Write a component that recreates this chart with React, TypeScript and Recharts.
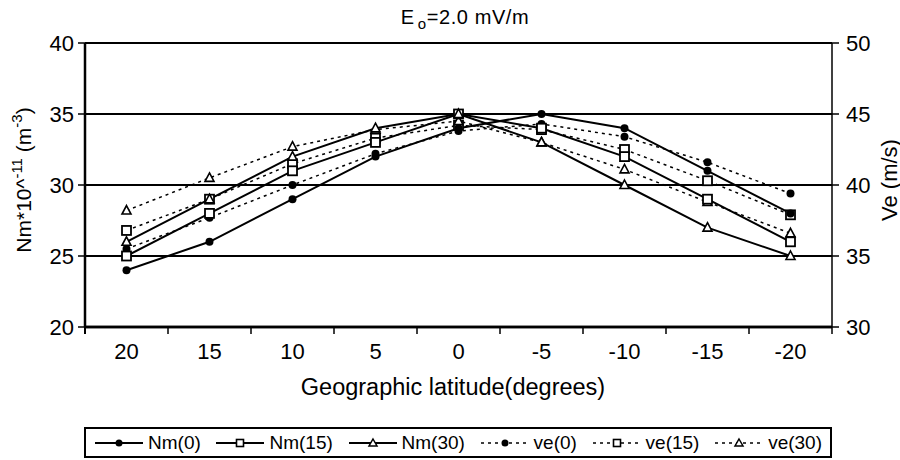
import React from "react";
import { ComposedChart, Line, XAxis, YAxis, CartesianGrid } from "recharts";

const latitudes = ["20", "15", "10", "5", "0", "-5", "-10", "-15", "-20"];
const nm0 = [24, 26, 29, 32, 34, 35, 34, 31, 28];
const nm15 = [25, 28, 31, 33, 35, 34, 32, 29, 26];
const nm30 = [26, 29, 32, 34, 35, 33, 30, 27, 25];
const ve0 = [35.5, 37.7, 40, 42.2, 43.8, 44.3, 43.4, 41.6, 39.4];
const ve15 = [36.8, 39, 41.5, 43.3, 44.2, 43.9, 42.5, 40.3, 37.9];
const ve30 = [38.2, 40.5, 42.7, 43.9, 44.5, 43, 41.1, 38.8, 36.6];
const leftTicks = [20, 25, 30, 35, 40];
const rightTicks = [30, 35, 40, 45, 50];

const data = latitudes.map((lat, i) => ({
  lat,
  nm0: nm0[i],
  nm15: nm15[i],
  nm30: nm30[i],
  ve0: ve0[i],
  ve15: ve15[i],
  ve30: ve30[i],
}));

const FONT = '"Liberation Sans", Arial, sans-serif';
const PLOT_LEFT = 85;
const PLOT_RIGHT = 832;
const PLOT_BOTTOM = 327;
const BAND = (PLOT_RIGHT - PLOT_LEFT) / latitudes.length;
const DOTTED = "3 4";

const CircleDot = (p: any) => <circle key={p.index} cx={p.cx} cy={p.cy} r={4} fill="#000" />;
const SquareDot = (p: any) => (
  <rect key={p.index} x={p.cx - 4.5} y={p.cy - 4.5} width={9} height={9} fill="#fff" stroke="#000" strokeWidth={1.8} />
);
const TriDot = (p: any) => (
  <polygon
    key={p.index}
    points={`${p.cx},${p.cy - 5} ${p.cx + 4.5},${p.cy + 3.5} ${p.cx - 4.5},${p.cy + 3.5}`}
    fill="#fff"
    stroke="#000"
    strokeWidth={1.6}
  />
);

// label in the middle of each band, tick mark on the band edge
const LatTick = (p: any) => {
  const { x, payload, index } = p;
  return (
    <g>
      {index === 0 && (
        <line x1={x - BAND / 2} x2={x - BAND / 2} y1={PLOT_BOTTOM} y2={PLOT_BOTTOM + 7} stroke="#000" strokeWidth={2} />
      )}
      <line x1={x + BAND / 2} x2={x + BAND / 2} y1={PLOT_BOTTOM} y2={PLOT_BOTTOM + 7} stroke="#000" strokeWidth={1.5} />
      <text x={x} y={351} textAnchor="middle" dominantBaseline="central" fontSize={22} fontFamily={FONT} fill="#000">
        {payload.value}
      </text>
    </g>
  );
};

const legendItems = [
  { name: "Nm(0)", shape: "circle", dashed: false },
  { name: "Nm(15)", shape: "square", dashed: false },
  { name: "Nm(30)", shape: "tri", dashed: false },
  { name: "ve(0)", shape: "circle", dashed: true },
  { name: "ve(15)", shape: "square", dashed: true },
  { name: "ve(30)", shape: "tri", dashed: true },
];

function LegendMark({ shape, dashed }: { shape: string; dashed: boolean }) {
  return (
    <svg width={50} height={14} style={{ display: "block" }}>
      <line x1={1} x2={49} y1={7} y2={7} stroke="#000" strokeWidth={dashed ? 1.5 : 2} strokeDasharray={dashed ? DOTTED : undefined} />
      {shape === "circle" && <circle cx={25} cy={7} r={3.5} fill="#000" />}
      {shape === "square" && <rect x={21.5} y={3.5} width={7} height={7} fill="#fff" stroke="#000" strokeWidth={1.6} />}
      {shape === "tri" && <polygon points="25,3 29,10 21,10" fill="#fff" stroke="#000" strokeWidth={1.5} />}
    </svg>
  );
}

export default function App() {
  return (
    <div style={{ position: "absolute", left: 0, top: 0, width: 900, height: 460, background: "#fff", fontFamily: FONT }}>
      <ComposedChart width={900} height={460} data={data} margin={{ top: 43, right: 0, bottom: 0, left: 0 }}>
        <CartesianGrid yAxisId="left" vertical={false} stroke="#000" strokeWidth={2} />
        <XAxis
          dataKey="lat"
          height={133}
          interval={0}
          padding={{ left: BAND / 2, right: BAND / 2 }}
          tickLine={false}
          axisLine={{ stroke: "#000", strokeWidth: 2.5 }}
          tick={<LatTick />}
        />
        <YAxis
          yAxisId="left"
          width={85}
          domain={[20, 40]}
          ticks={leftTicks}
          tickSize={7}
          tickMargin={4}
          axisLine={{ stroke: "#000", strokeWidth: 2.5 }}
          tickLine={{ stroke: "#000", strokeWidth: 1.5 }}
          tick={{ fill: "#000", fontSize: 22, fontFamily: FONT }}
        />
        <YAxis
          yAxisId="right"
          orientation="right"
          width={68}
          domain={[30, 50]}
          ticks={rightTicks}
          tickSize={7}
          tickMargin={7}
          axisLine={{ stroke: "#000", strokeWidth: 1.5 }}
          tickLine={{ stroke: "#000", strokeWidth: 1.5 }}
          tick={{ fill: "#000", fontSize: 22, fontFamily: FONT }}
        />
        <Line yAxisId="right" dataKey="ve0" stroke="#000" strokeWidth={1.5} strokeDasharray={DOTTED} dot={CircleDot} isAnimationActive={false} />
        <Line yAxisId="right" dataKey="ve15" stroke="#000" strokeWidth={1.5} strokeDasharray={DOTTED} dot={SquareDot} isAnimationActive={false} />
        <Line yAxisId="right" dataKey="ve30" stroke="#000" strokeWidth={1.5} strokeDasharray={DOTTED} dot={TriDot} isAnimationActive={false} />
        <Line yAxisId="left" dataKey="nm0" stroke="#000" strokeWidth={2} dot={CircleDot} isAnimationActive={false} />
        <Line yAxisId="left" dataKey="nm15" stroke="#000" strokeWidth={2} dot={SquareDot} isAnimationActive={false} />
        <Line yAxisId="left" dataKey="nm30" stroke="#000" strokeWidth={2} dot={TriDot} isAnimationActive={false} />
      </ComposedChart>
      <svg width={900} height={460} style={{ position: "absolute", left: 0, top: 0, pointerEvents: "none" }}>
        <line x1={PLOT_LEFT} x2={PLOT_RIGHT} y1={PLOT_BOTTOM} y2={PLOT_BOTTOM} stroke="#000" strokeWidth={2.5} />
        <text x={465} y={24} textAnchor="middle" fontSize={20} letterSpacing={0.6} fontFamily={FONT} fill="#000">
          E<tspan fontSize={15} dx={3} dy={5}>o</tspan>
          <tspan dy={-5}>=2.0 mV/m</tspan>
        </text>
        <text
          transform="translate(23,180) rotate(-90)"
          textAnchor="middle"
          dominantBaseline="central"
          fontSize={21}
          fontFamily={FONT}
          fill="#000"
        >
          Nm*10^<tspan fontSize={15} dy={-7}>-11</tspan>
          <tspan dy={7}> (m</tspan>
          <tspan fontSize={15} dy={-7}>-3</tspan>
          <tspan dy={7}>)</tspan>
        </text>
        <text
          transform="translate(889,180) rotate(-90)"
          textAnchor="middle"
          dominantBaseline="central"
          fontSize={22}
          fontFamily={FONT}
          fill="#000"
        >
          Ve (m/s)
        </text>
        <text x={453} y={387} textAnchor="middle" dominantBaseline="central" fontSize={23.5} fontFamily={FONT} fill="#000">
          Geographic latitude(degrees)
        </text>
      </svg>
      <div
        style={{
          position: "absolute",
          left: 84,
          top: 427,
          width: 748,
          height: 31,
          boxSizing: "border-box",
          border: "2px solid #000",
          display: "flex",
          alignItems: "center",
          justifyContent: "space-between",
          padding: "0 8px",
          fontSize: 19,
          color: "#000",
        }}
      >
        {legendItems.map((it) => (
          <div key={it.name} style={{ display: "flex", alignItems: "center", gap: 4 }}>
            <LegendMark shape={it.shape} dashed={it.dashed} />
            <span>{it.name}</span>
          </div>
        ))}
      </div>
    </div>
  );
}
